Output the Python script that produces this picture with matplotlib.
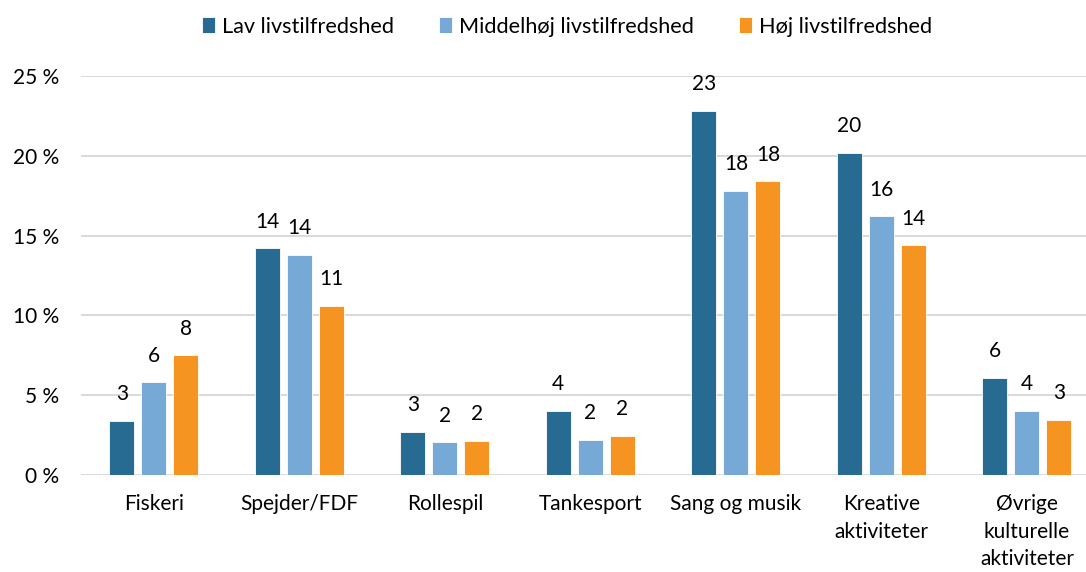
import matplotlib.pyplot as plt
import numpy as np

plt.rcParams['font.family'] = ['Lato', 'DejaVu Sans']

# Categories on the x-axis
categories = ['Fiskeri', 'Spejder/FDF', 'Rollespil', 'Tankesport', 'Sang og musik',
              'Kreative\naktiviteter', 'Øvrige\nkulturelle\naktiviteter']

# Share (%) per life satisfaction group
lav = [3.4, 14.2, 2.7, 4.0, 22.8, 20.2, 6.1]
middel = [5.8, 13.8, 2.05, 2.2, 17.8, 16.2, 4.0]
hoej = [7.5, 10.6, 2.15, 2.45, 18.4, 14.4, 3.45]

series_names = ['Lav livstilfredshed', 'Middelhøj livstilfredshed', 'Høj livstilfredshed']
colors = ['#276A92', '#77A9D6', '#F69421']

fig = plt.figure(figsize=(10.86, 5.72), dpi=100)
ax = fig.add_axes([0.0746, 0.1696, 0.938, 0.6975])

x = np.arange(len(categories))
width = 0.172
offsets = [-0.22, 0, 0.22]

for vals, name, col, off in zip([lav, middel, hoej], series_names, colors, offsets):
    bars = ax.bar(x + off, vals, width, color=col, label=name,
                  edgecolor='white', linewidth=0.6, zorder=3)
    # Value labels above each bar, rounded like the source
    for b, v in zip(bars, vals):
        ax.annotate(str(int(round(v))), (b.get_x() + b.get_width() / 2, v),
                    xytext=(0, 12), textcoords='offset points',
                    ha='center', va='bottom', fontsize=15, color='black')

ax.set_xlim(-0.5, len(categories) - 0.5)
ax.set_ylim(0, 25)
ax.set_yticks(range(0, 26, 5))
ax.set_yticklabels([f'{v} %' for v in range(0, 26, 5)])
ax.set_xticks(x)
ax.set_xticklabels(categories, linespacing=1.45, va='top')

ax.tick_params(axis='both', length=0, labelsize=15, colors='black')
ax.tick_params(axis='x', pad=14)
ax.tick_params(axis='y', pad=16)

# Light gray horizontal grid only
ax.grid(axis='y', color='#D9D9D9', linewidth=1.4, zorder=0)
for s in ax.spines.values():
    s.set_visible(False)

fig.legend(loc='upper center', bbox_to_anchor=(0.522, 1.005), ncol=3, frameon=False,
           fontsize=15.6, handlelength=0.6, handleheight=0.8, handletextpad=0.3,
           columnspacing=2.1)

fig.savefig('out.png', dpi=100)
